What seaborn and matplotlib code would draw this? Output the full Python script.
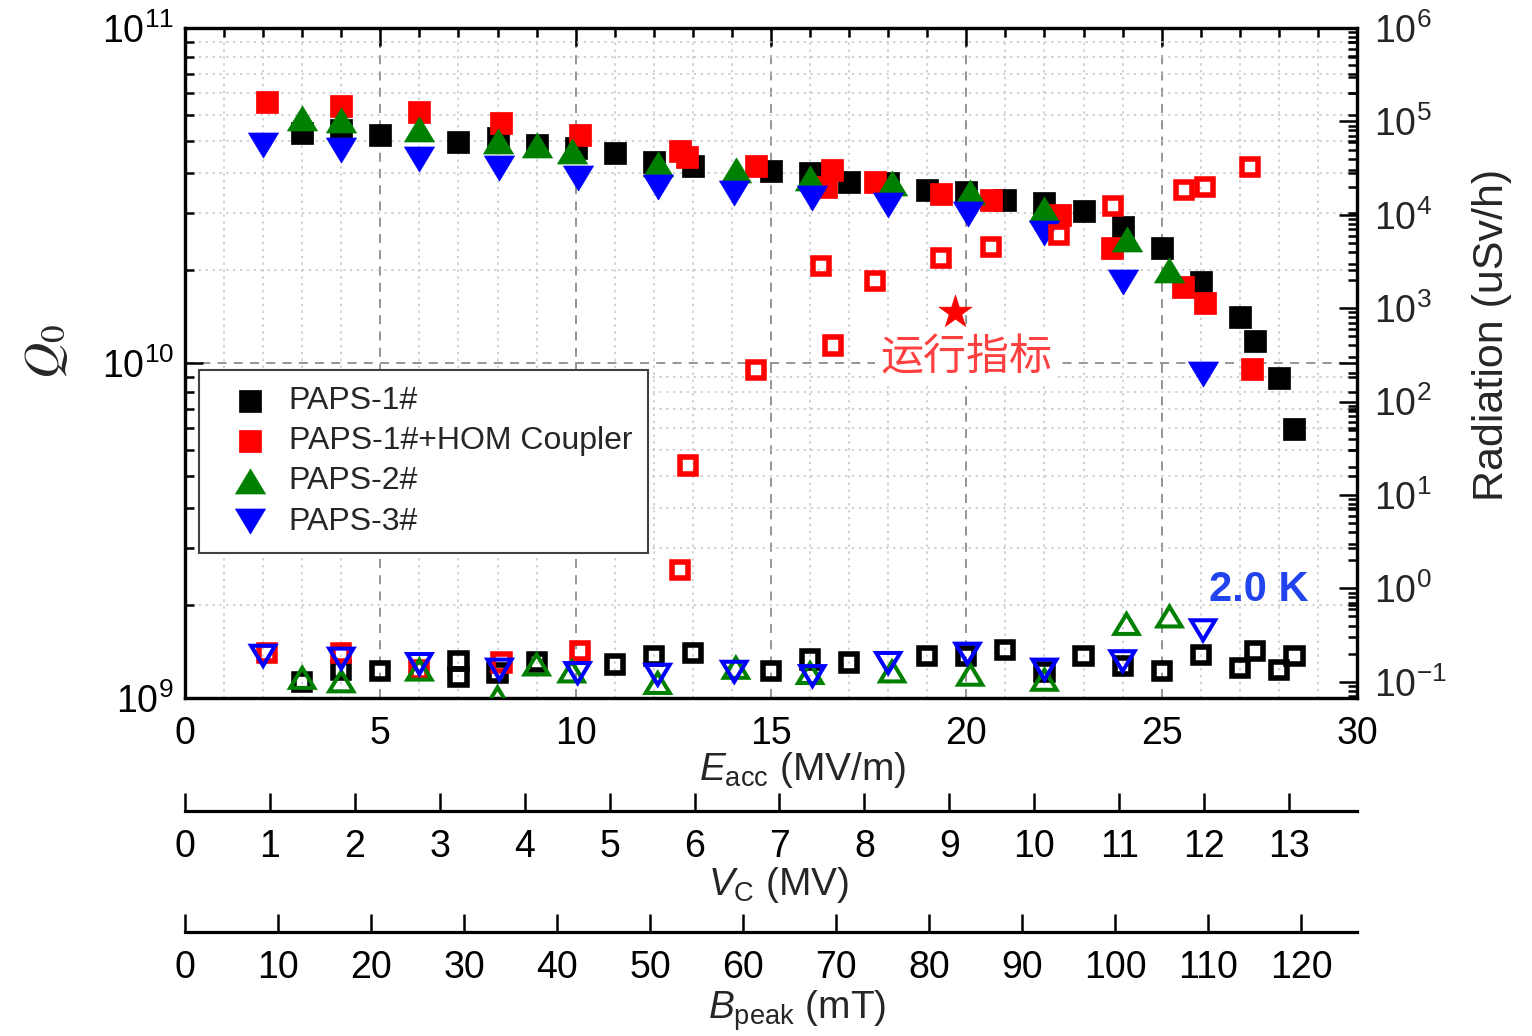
import numpy as np
import matplotlib
matplotlib.use("Agg")
import matplotlib.pyplot as plt
import seaborn as sns
from matplotlib.path import Path
from matplotlib.markers import MarkerStyle
from matplotlib.ticker import FixedLocator, LogLocator, NullFormatter, MultipleLocator

# ---------------- data ----------------
# PAPS-1#  (black)
e1 = [3, 4, 5, 7, 8, 9, 10, 11, 12, 13, 15, 16, 17, 18, 19, 20, 21, 22, 23, 24, 25, 26, 27, 27.4, 28, 28.4]
q1 = [4.87e10, 4.96e10, 4.79e10, 4.57e10, 4.69e10, 4.48e10, 4.38e10, 4.23e10, 3.99e10, 3.87e10,
      3.73e10, 3.68e10, 3.47e10, 3.44e10, 3.28e10, 3.24e10, 3.07e10, 3.0e10, 2.85e10, 2.54e10,
      2.20e10, 1.75e10, 1.37e10, 1.16e10, 9.0e9, 6.35e9]
e1r = [3, 4, 5, 7, 7, 8, 9, 11, 12, 13, 15, 16, 17, 19, 20, 21, 22, 23, 24, 25, 26, 27, 27.4, 28, 28.4]
r1 = [0.10, 0.135, 0.131, 0.166, 0.113, 0.124, 0.163, 0.153, 0.187, 0.204, 0.129, 0.173, 0.161,
      0.187, 0.187, 0.221, 0.126, 0.187, 0.146, 0.129, 0.195, 0.141, 0.212, 0.135, 0.187]

# PAPS-1#+HOM Coupler (red)
e2 = [2.1, 4.0, 6.0, 8.1, 10.1, 12.67, 12.84, 14.61, 16.4, 16.55, 17.66, 19.34, 20.62, 22.4, 23.74, 25.55, 26.1, 27.3]
q2 = [6.0e10, 5.86e10, 5.62e10, 5.2e10, 4.8e10, 4.28e10, 4.13e10, 3.86e10, 3.36e10, 3.77e10,
      3.48e10, 3.19e10, 3.07e10, 2.77e10, 2.20e10, 1.69e10, 1.51e10, 9.6e9]
e2r = [2.1, 4.0, 6.0, 8.1, 10.1, 12.68, 12.88, 14.61, 16.28, 16.58, 17.67, 19.36, 20.63, 22.37, 23.75, 25.57, 26.1, 27.26]
r2 = [0.204, 0.204, 0.135, 0.161, 0.212, 1.58, 20.7, 219, 2840, 398, 1946, 3480, 4500, 6090,
      12500, 18500, 19700, 32800]

# PAPS-2# (green)
e3 = [3.0, 4.0, 6.0, 8.0, 9.0, 9.9, 12.1, 14.1, 16.0, 18.1, 20.1, 22.0, 24.1, 25.2]
q3 = [5.37e10, 5.31e10, 5.01e10, 4.6e10, 4.48e10, 4.3e10, 3.93e10, 3.77e10, 3.56e10, 3.44e10,
      3.24e10, 2.88e10, 2.34e10, 1.89e10]
r3 = [0.11, 0.101, 0.135, 0.068, 0.153, 0.129, 0.097, 0.141, 0.124, 0.129, 0.119, 0.105, 0.416, 0.50]

# PAPS-3# (blue)
e4 = [2.0, 4.0, 6.0, 8.05, 10.05, 12.1, 14.06, 16.06, 18.0, 20.03, 22.0, 24.0, 26.06]
q4 = [4.48e10, 4.33e10, 4.07e10, 3.81e10, 3.56e10, 3.36e10, 3.21e10, 3.1e10, 2.97e10, 2.79e10,
      2.44e10, 1.75e10, 9.27e9]
r4 = [0.19, 0.177, 0.155, 0.135, 0.124, 0.119, 0.128, 0.115, 0.159, 0.2, 0.135, 0.166, 0.356]

labels = ["PAPS-1#", "PAPS-1#+HOM Coupler", "PAPS-2#", "PAPS-3#"]
colors = ["#000000", "#FF0000", "#008000", "#0000FF"]

star_e, star_q = [19.7], [1.42e10]
spec_text = "运行指标"
temp_text = "2.0 K"

eacc_ticks = [0, 5, 10, 15, 20, 25, 30]
vc_ticks = list(range(0, 14))
bp_ticks = list(range(0, 130, 10))
vc_per_eacc = 0.46
bp_per_eacc = 4.2

# ---------------- style ----------------
sns.set_theme(style="white")
plt.rcParams["font.family"] = ["Liberation Sans", "Noto Sans CJK SC", "DejaVu Sans"]
plt.rcParams["mathtext.fontset"] = "custom"
plt.rcParams["mathtext.rm"] = "Liberation Sans"
plt.rcParams["mathtext.it"] = "Liberation Sans:italic"
plt.rcParams["mathtext.bf"] = "Liberation Sans:bold"

FS = 27      # tick labels
FT = 28      # axis titles
FL = 23      # legend


def tri(up=True, h=0.83):
    s = 1 if up else -1
    verts = [(-1, -s * h), (1, -s * h), (0, s * h), (0, 0)]
    codes = [Path.MOVETO, Path.LINETO, Path.LINETO, Path.CLOSEPOLY]
    return MarkerStyle(Path(verts, codes))


SQ = MarkerStyle("s")
TU = tri(True)
TD = tri(False)

fig, ax = plt.subplots(figsize=(15.32, 10.36), dpi=100)
fig.subplots_adjust(left=185 / 1532, right=1357 / 1532, top=1 - 28 / 1036, bottom=1 - 698 / 1036)

ax.set_yscale("log")
ax.set_xlim(0, 30)
ax.set_ylim(1e9, 1e11)
ax2 = ax.twinx()
ax2.set_yscale("log")
ax2.set_ylim(0.067, 1e6)

# grid
ax.set_axisbelow(True)
ax.set_xticks(eacc_ticks)
ax.xaxis.set_minor_locator(MultipleLocator(1))
qminor = [10.0 ** d * (1 + 0.9 * k) for d in (9, 10) for k in range(1, 10)]
ax.yaxis.set_minor_locator(FixedLocator(qminor))
ax.yaxis.set_minor_formatter(NullFormatter())
ax.grid(which="major", ls=(0, (5, 4)), color="#8c8c8c", lw=1.3)
ax.grid(which="minor", ls=(0, (1.5, 3)), color="#c4c4c4", lw=1.1)

# filled: Q0
filled = [(e1, q1, SQ, 240), (e2, q2, SQ, 240), (e3, q3, TU, 470), (e4, q4, TD, 470)]
for (xx, yy, mk, sz), c, lab in zip(filled, colors, labels):
    sns.scatterplot(x=xx, y=yy, ax=ax, marker=mk, s=sz, color=c, edgecolor=c,
                    linewidth=0.5, label=lab, legend=False, zorder=3)

# star + spec text
sns.scatterplot(x=star_e, y=star_q, ax=ax, marker="*", s=620, color="#FF0000",
                edgecolor="#FF0000", linewidth=0.5, legend=False, zorder=4)
ax.text(20.0, 1.035e10, spec_text, color="#FF4040", fontsize=31, ha="center", va="center",
        family=["Noto Sans CJK SC", "DejaVu Sans"], zorder=4,
        bbox=dict(facecolor="white", edgecolor="none", pad=4))

# open: radiation
opened = [(e1r, r1, SQ, 135, 4.0), (e2r, r2, SQ, 135, 4.0), (e3, r3, TU, 300, 2.9), (e4, r4, TD, 300, 2.9)]
for (xx, yy, mk, sz, lw), c in zip(opened, colors):
    sns.scatterplot(x=xx, y=yy, ax=ax2, marker=mk, s=sz, facecolor="none", color=c,
                    edgecolor=c, linewidth=lw, legend=False, zorder=3, joinstyle="miter")

ax2.text((1259 - 185) / 1172, (698 - 590) / 670, temp_text, transform=ax2.transAxes,
         color="#2244EE", fontsize=30, fontweight="bold", ha="center", va="center")

# ticks
for a in (ax, ax2):
    for sp in a.spines.values():
        sp.set_linewidth(2.3)
        sp.set_color("black")
ax.tick_params(which="both", direction="in", top=True, right=True, labelsize=FS, width=1.8,
               color="black", labelcolor="black")
ax.tick_params(which="major", length=13)
ax.tick_params(which="minor", length=6.5)
ax.tick_params(axis="x", pad=13)
ax.tick_params(axis="y", pad=8)

ax2.yaxis.set_major_locator(LogLocator(base=10, numticks=20))
ax2.yaxis.set_minor_locator(LogLocator(base=10, subs=np.arange(2, 10), numticks=20))
ax2.yaxis.set_minor_formatter(NullFormatter())
ax2.tick_params(which="both", direction="in", labelsize=FS, width=1.8, color="black", pad=12)
ax2.tick_params(which="major", length=13)
ax2.tick_params(which="minor", length=6.5)

# labels
ax.set_xlabel(r"$E_{\mathrm{acc}}$ (MV/m)", fontsize=FT, va="center")
ax.xaxis.set_label_coords((803 - 185) / 1172, (698 - 770) / 670)
ax.set_ylabel(r"$Q_0$", fontsize=36, math_fontfamily="stix", va="center")
ax.yaxis.set_label_coords((47 - 185) / 1172, (698 - 352) / 670)
ax2.set_ylabel("Radiation (uSv/h)", fontsize=31, va="center")
ax2.yaxis.set_label_coords((1492 - 185) / 1172, (698 - 335) / 670)

# secondary x axes
sec_vc = ax.secondary_xaxis(-(811 - 698) / 670,
                            functions=(lambda e: e * vc_per_eacc, lambda v: v / vc_per_eacc))
sec_bp = ax.secondary_xaxis(-(932 - 698) / 670,
                            functions=(lambda e: e * bp_per_eacc, lambda b: b / bp_per_eacc))
sec_vc.set_xticks(vc_ticks)
sec_bp.set_xticks(bp_ticks)
for s in (sec_vc, sec_bp):
    s.spines["bottom"].set_linewidth(2.3)
    s.spines["bottom"].set_color("black")
    s.tick_params(which="major", direction="in", length=13, width=1.8, labelsize=FS, pad=13,
                  color="black", labelcolor="black")
    s.tick_params(which="minor", length=0)
sec_vc.set_xlabel(r"$V_{\mathrm{C}}$ (MV)", fontsize=FT, va="center")
sec_vc.xaxis.set_label_coords((779 - 185) / 1172, (698 - 885) / 670, transform=ax.transAxes)
sec_bp.set_xlabel(r"$B_{\mathrm{peak}}$ (mT)", fontsize=FT, va="center")
sec_bp.xaxis.set_label_coords((797 - 185) / 1172, (698 - 1011) / 670, transform=ax.transAxes)

# legend
h, l = ax.get_legend_handles_labels()
leg = ax2.legend(h, l, loc="upper left", bbox_to_anchor=((199 - 185) / 1172, (698 - 370) / 670),
                 borderaxespad=0, fontsize=FL, frameon=True, fancybox=False, framealpha=1,
                 borderpad=0.5, handlelength=2.2, handletextpad=0.11, labelspacing=0.32,
                 scatterpoints=1)
leg.get_frame().set_edgecolor("#404040")
leg.get_frame().set_linewidth(1.5)
leg.set_zorder(10)

fig.savefig("out.png", dpi=100)
